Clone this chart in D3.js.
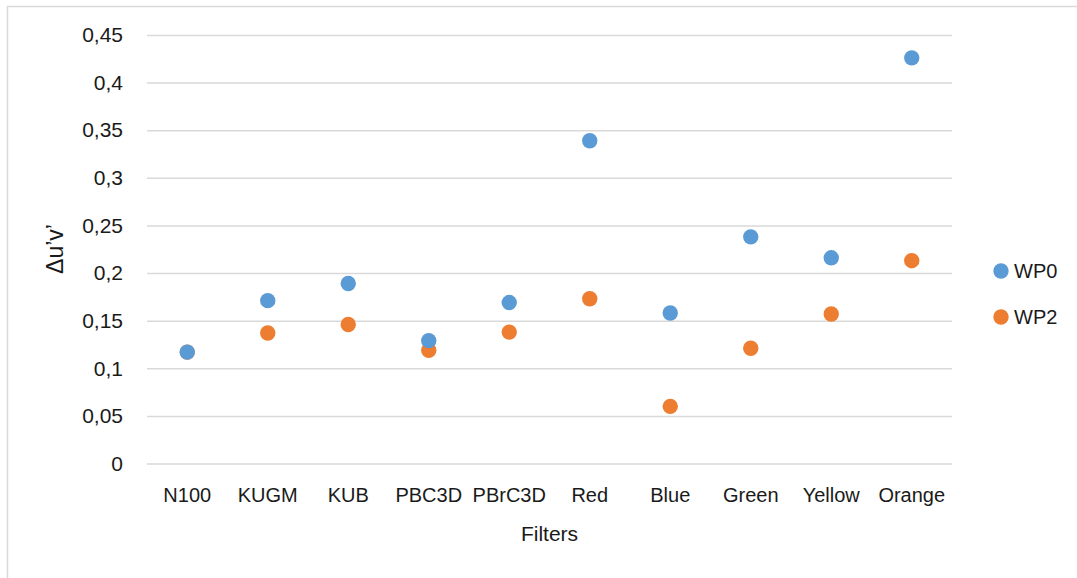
<!DOCTYPE html>
<html>
<head>
<meta charset="utf-8">
<script src="https://cdn.jsdelivr.net/npm/d3@7"></script>
<style>
  html, body { margin: 0; padding: 0; background: #ffffff; }
  svg { display: block; }
  text { font-family: "Liberation Sans", Arial, sans-serif; fill: #1a1a1a; }
</style>
</head>
<body>
<svg id="chart" width="1077" height="578"></svg>
<script>
const categories = ["N100", "KUGM", "KUB", "PBC3D", "PBrC3D", "Red", "Blue", "Green", "Yellow", "Orange"];
const wp0 = [0.117, 0.171, 0.189, 0.129, 0.169, 0.339, 0.158, 0.238, 0.216, 0.426];
const wp2 = [0.117, 0.137, 0.146, 0.119, 0.138, 0.173, 0.060, 0.121, 0.157, 0.213];
const seriesNames = ["WP0", "WP2"];
const tickValues = [0, 0.05, 0.1, 0.15, 0.2, 0.25, 0.3, 0.35, 0.4, 0.45];
const tickLabels = ["0", "0,05", "0,1", "0,15", "0,2", "0,25", "0,3", "0,35", "0,4", "0,45"];
const yTitle = "\u0394u\u2019v\u2019";
const xTitle = "Filters";

const colors = { WP0: "#5B9BD5", WP2: "#ED7D31" };

const svg = d3.select("#chart");
const pLeft = 147, pRight = 952, pTop = 35, pBottom = 463.5;

// outer border
svg.append("rect")
  .attr("x", 7.5).attr("y", 6.5)
  .attr("width", 1200).attr("height", 700)
  .attr("fill", "none").attr("stroke", "#d9d9d9").attr("stroke-width", 1.5);

const x = d3.scaleBand().domain(categories).range([pLeft, pRight]).padding(0);
const y = d3.scaleLinear().domain([0, 0.45]).range([pBottom, pTop]);

// gridlines + y tick labels
const yAxis = d3.axisLeft(y)
  .tickValues(tickValues)
  .tickFormat((d, i) => tickLabels[i])
  .tickSize(-(pRight - pLeft))
  .tickPadding(24);

const gy = svg.append("g").attr("transform", `translate(${pLeft},0)`).call(yAxis);
gy.select(".domain").remove();
gy.selectAll(".tick line").attr("stroke", "#d9d9d9").attr("stroke-width", 1.5);
gy.selectAll(".tick text")
  .attr("font-size", 21)
  .attr("font-family", "Liberation Sans, Arial, sans-serif")
  .attr("fill", "#1a1a1a");

// x axis labels
const xAxis = d3.axisBottom(x).tickSize(0).tickPadding(0);
const gx = svg.append("g").attr("transform", `translate(0,${pBottom})`).call(xAxis);
gx.select(".domain").remove();
gx.selectAll(".tick text")
  .attr("y", 38.5).attr("dy", 0)
  .attr("font-size", 20)
  .attr("font-family", "Liberation Sans, Arial, sans-serif")
  .attr("fill", "#1a1a1a");

// axis titles
svg.append("text")
  .attr("x", (pLeft + pRight) / 2).attr("y", 541)
  .attr("text-anchor", "middle")
  .attr("font-size", 21)
  .text(xTitle);

svg.append("text")
  .attr("transform", `translate(63,249) rotate(-90)`)
  .attr("text-anchor", "middle")
  .attr("font-size", 23)
  .text(yTitle);

// points: WP2 first, WP0 on top
const series = [
  { name: "WP2", values: wp2 },
  { name: "WP0", values: wp0 }
];
series.forEach(s => {
  svg.append("g").selectAll("circle")
    .data(s.values)
    .join("circle")
    .attr("cx", (d, i) => x(categories[i]) + x.bandwidth() / 2)
    .attr("cy", d => y(d))
    .attr("r", 7.7)
    .attr("fill", colors[s.name]);
});

// legend
const legend = svg.append("g");
seriesNames.forEach((name, i) => {
  const ly = 271 + i * 46;
  legend.append("circle")
    .attr("cx", 1001).attr("cy", ly).attr("r", 7.7)
    .attr("fill", colors[name]);
  legend.append("text")
    .attr("x", 1014).attr("y", ly).attr("dy", "0.36em")
    .attr("font-size", 20)
    .text(name);
});
</script>
</body>
</html>
